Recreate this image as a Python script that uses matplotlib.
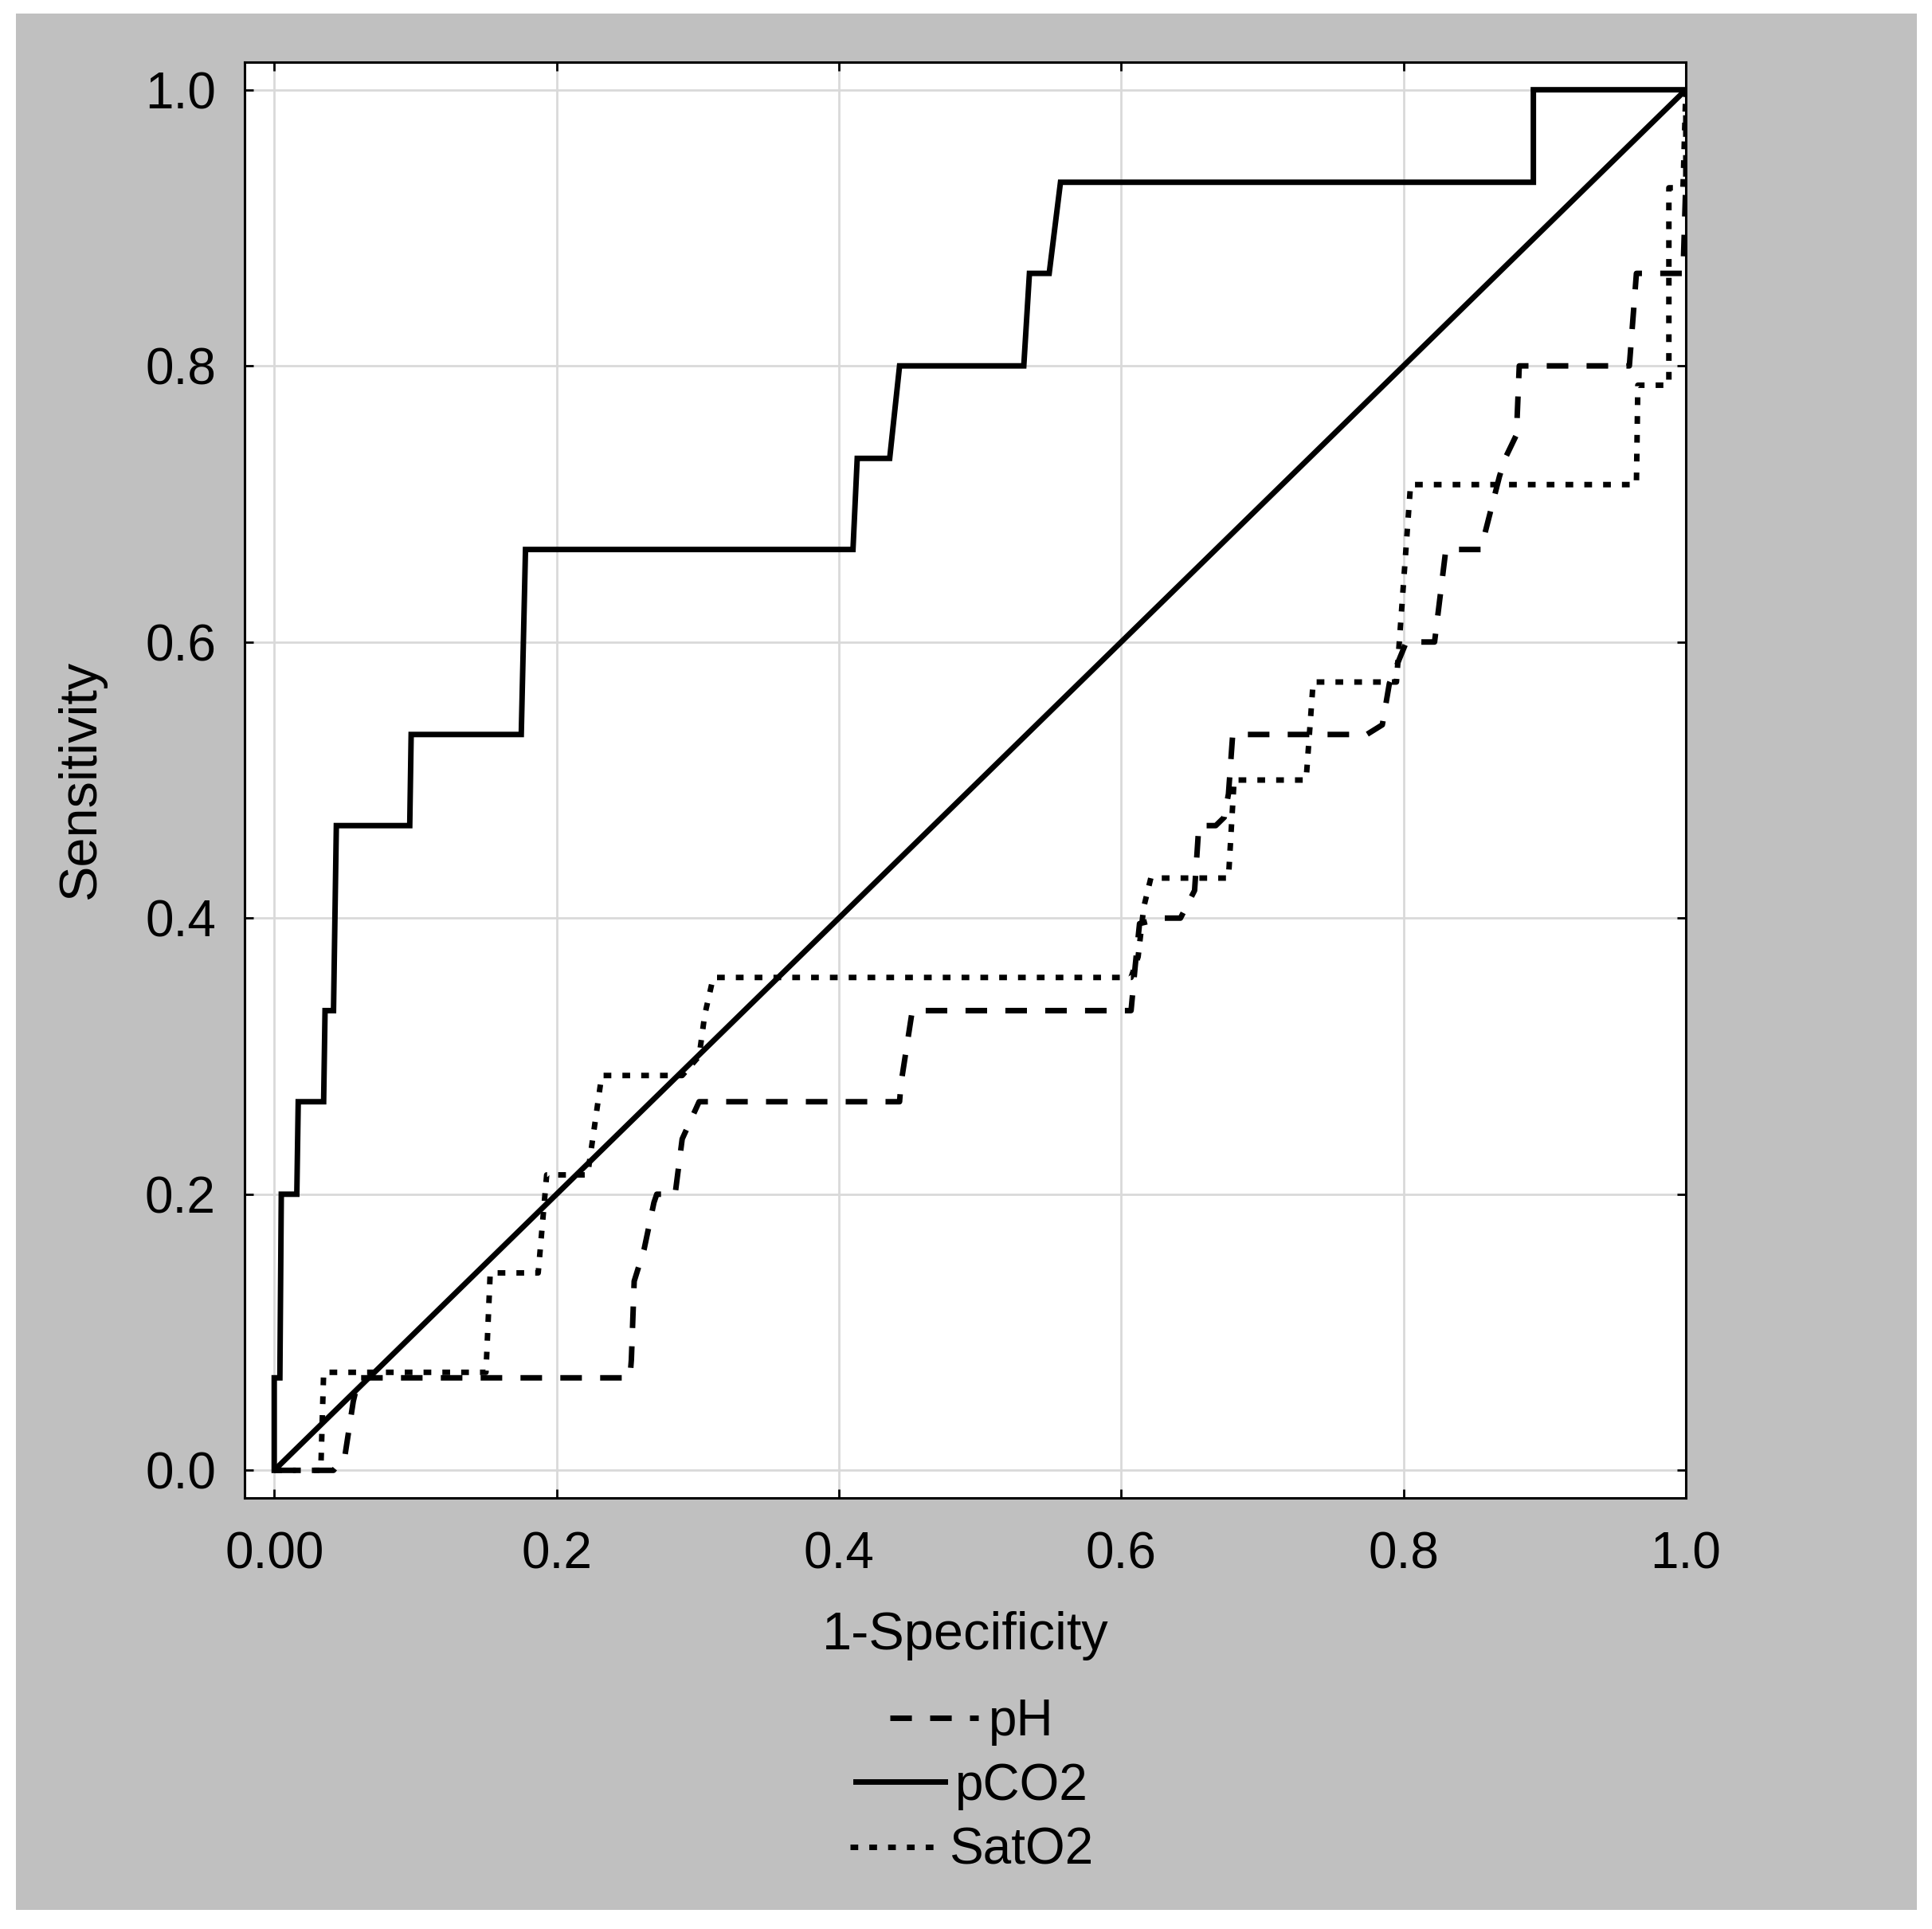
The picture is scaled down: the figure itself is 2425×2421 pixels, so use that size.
import matplotlib
matplotlib.use("Agg")
import matplotlib.pyplot as plt
from matplotlib.patches import Rectangle

plt.rcParams['font.family'] = ['Liberation Sans', 'DejaVu Sans']

# ---- data ----
pco2_x = [0, 0, 0.004, 0.005, 0.016, 0.017, 0.035, 0.036, 0.042, 0.044, 0.096, 0.097,
          0.175, 0.178, 0.41, 0.413, 0.436, 0.443, 0.531, 0.535, 0.549, 0.557, 0.892, 0.892, 1.0]
pco2_y = [0, 0.067, 0.067, 0.2, 0.2, 0.267, 0.267, 0.333, 0.333, 0.467, 0.467, 0.533,
          0.533, 0.667, 0.667, 0.733, 0.733, 0.8, 0.8, 0.867, 0.867, 0.933, 0.933, 1.0, 1.0]

ph_x = [0, 0.042, 0.05, 0.056, 0.06, 0.252, 0.253, 0.255, 0.262, 0.269, 0.271, 0.284,
        0.289, 0.301, 0.443, 0.444, 0.452, 0.607, 0.61, 0.613, 0.629, 0.642, 0.652, 0.655,
        0.667, 0.673, 0.676, 0.679, 0.774, 0.785, 0.79, 0.802, 0.822, 0.83, 0.838, 0.855,
        0.858, 0.868, 0.872, 0.88, 0.882, 0.96, 0.965, 0.998, 1.0, 1.0]
ph_y = [0, 0, 0.01, 0.05, 0.067, 0.067, 0.08, 0.137, 0.16, 0.194, 0.2, 0.2,
        0.24, 0.267, 0.267, 0.28, 0.333, 0.333, 0.366, 0.396, 0.4, 0.4, 0.42, 0.467,
        0.467, 0.473, 0.49, 0.533, 0.533, 0.54, 0.57, 0.6, 0.6, 0.667, 0.667, 0.667,
        0.68, 0.72, 0.733, 0.75, 0.8, 0.8, 0.867, 0.867, 0.933, 1.0]

sat_x = [0, 0.033, 0.035, 0.15, 0.153, 0.187, 0.193, 0.222, 0.232, 0.289, 0.301, 0.305,
         0.311, 0.607, 0.612, 0.616, 0.621, 0.676, 0.68, 0.731, 0.736, 0.741, 0.795, 0.805,
         0.965, 0.966, 0.988, 0.988, 0.998, 1.0]
sat_y = [0, 0, 0.071, 0.071, 0.143, 0.143, 0.214, 0.214, 0.286, 0.286, 0.3, 0.33,
         0.357, 0.357, 0.372, 0.408, 0.429, 0.429, 0.5, 0.5, 0.571, 0.571, 0.571, 0.714,
         0.714, 0.786, 0.786, 0.929, 0.929, 1.0]

ref_x = [0, 1]
ref_y = [0, 1]

x_ticks = [0.0, 0.2, 0.4, 0.6, 0.8, 1.0]
x_tick_labels = ['0.00', '0.2', '0.4', '0.6', '0.8', '1.0']
y_ticks = [0.0, 0.2, 0.4, 0.6, 0.8, 1.0]
y_tick_labels = ['0.0', '0.2', '0.4', '0.6', '0.8', '1.0']
series_names = ['pH', 'pCO2', 'SatO2']

# ---- figure ----
W, H = 2425, 2421
fig = plt.figure(figsize=(W / 100, H / 100), dpi=100, facecolor='white')
fig.patches.append(Rectangle((20 / W, 24 / H), 2386 / W, 2380 / H, transform=fig.transFigure,
                             facecolor='#c0c0c0', edgecolor='none', zorder=-10))

ax = fig.add_axes([307 / W, 1 - 1880 / H, (2116 - 307) / W, (1880 - 78) / H])
ax.set_facecolor('white')
ax.set_xlim(-0.021, 1.0)
ax.set_ylim(-0.02, 1.02)

LW = 5.0
ax.plot(ref_x, ref_y, color='black', lw=LW, solid_capstyle='butt', zorder=3)
l_ph, = ax.plot(ph_x, ph_y, color='black', lw=LW, linestyle=(0, (3.9, 3.3)),
                dash_capstyle='butt', zorder=4)
l_co2, = ax.plot(pco2_x, pco2_y, color='black', lw=LW, solid_joinstyle='miter', zorder=5)
l_sat, = ax.plot(sat_x, sat_y, color='black', lw=LW, linestyle=(0, (1.4, 2.0)),
                 dash_capstyle='butt', zorder=4)

ax.set_xticks(x_ticks)
ax.set_xticklabels(x_tick_labels)
ax.set_yticks(y_ticks)
ax.set_yticklabels(y_tick_labels)
ax.grid(True, color='#d9d9d9', lw=2.0, zorder=0)
ax.set_axisbelow(True)
ax.tick_params(direction='in', length=8, width=2, top=True, right=True,
               labelsize=46, colors='black')
ax.tick_params(axis='x', pad=30)
ax.tick_params(axis='y', pad=26)
for s in ax.spines.values():
    s.set_linewidth(2.2)
    s.set_color('black')

ax.set_xlabel('1-Specificity', fontsize=48, labelpad=29)
ax.set_ylabel('Sensitivity', fontsize=48, labelpad=35)

ys = [0.1074, 0.074, 0.0405]
for h, name, yy in zip([l_ph, l_co2, l_sat], series_names, ys):
    fig.legend(handles=[h], labels=[name], loc='center', bbox_to_anchor=(0.503, yy),
               frameon=False, fontsize=46, handlelength=1.75, handletextpad=0.2,
               borderpad=0, borderaxespad=0)

fig.savefig('out.png', dpi=100, facecolor='white')
